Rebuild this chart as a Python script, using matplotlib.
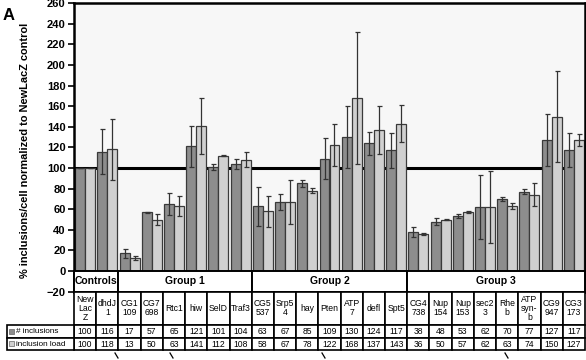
import matplotlib
matplotlib.use("Agg")
import matplotlib.pyplot as plt
import matplotlib.transforms as mtransforms
from matplotlib.patches import Rectangle
import numpy as np

plt.rcParams["font.family"] = ["Liberation Sans", "DejaVu Sans"]

# gene knockdowns (table headers)
genes = ["New\nLac\nZ", "dhdJ\n1", "CG1\n109", "CG7\n698", "Rtc1", "hiw", "SelD", "Traf3",
         "CG5\n537", "Srp5\n4", "hay", "Pten", "ATP\n7", "defl", "Spt5",
         "CG4\n738", "Nup\n154", "Nup\n153", "sec2\n3", "Rhe\nb", "ATP\nsyn-\nb", "CG9\n947", "CG3\n173"]
n_inclusions = [100, 116, 17, 57, 65, 121, 101, 104, 63, 67, 85, 109, 130, 124, 117,
                38, 48, 53, 62, 70, 77, 127, 117]
inclusion_load = [100, 118, 13, 50, 63, 141, 112, 108, 58, 67, 78, 122, 168, 137, 143,
                  36, 50, 57, 62, 63, 74, 150, 127]
# error bar half-lengths
n_inclusions_err = [0, 22, 4, 0.5, 11, 20, 3, 4.5, 19, 7.5, 3, 20, 30, 11, 17,
                    5, 3, 2, 31, 2, 2.5, 25.5, 16.5]
inclusion_load_err = [0, 30, 2, 5.5, 10, 27, 0.5, 7.5, 15, 21.5, 2.5, 20.5, 64, 23.5, 18,
                      1, 0.5, 1, 35, 3, 11, 44, 6]
groups = [("Controls", 0, 2), ("Group 1", 2, 8), ("Group 2", 8, 15), ("Group 3", 15, 23)]

DARK = "#8d8d8d"
LIGHT = "#d0d0d0"
EDGE = "#3a3a3a"

W, H = 586, 360
fig = plt.figure(figsize=(W / 100, H / 100), dpi=100)

y_top, y_bot = 3.2, 291.6
ax = fig.add_axes([74 / W, (H - y_bot) / H, 511 / W, (y_bot - y_top) / H])
ax.set_facecolor("#f7f7f7")

x = np.arange(len(genes))
w = 0.45
ax.axhline(100, color="black", lw=2.2, zorder=1)
ax.bar(x - w / 2, n_inclusions, w, color=DARK, edgecolor=EDGE, lw=0.9, zorder=2)
ax.bar(x + w / 2, inclusion_load, w, color=LIGHT, edgecolor=EDGE, lw=0.9, zorder=2)
ax.errorbar(x - w / 2, n_inclusions, yerr=n_inclusions_err, fmt="none",
            ecolor="#333333", elinewidth=0.9, capsize=1.8, capthick=0.9, zorder=3)
ax.errorbar(x + w / 2, inclusion_load, yerr=inclusion_load_err, fmt="none",
            ecolor="#333333", elinewidth=0.9, capsize=1.8, capthick=0.9, zorder=3)

ax.set_xlim(-0.5, len(genes) - 0.5)
ax.set_ylim(-20, 260)
ax.set_yticks(range(-20, 261, 20))
ax.set_xticks([])
ax.tick_params(axis="y", direction="out", length=4, width=1.2, pad=2, labelsize=8)
for lab in ax.get_yticklabels():
    lab.set_fontweight("bold")
for s in ax.spines.values():
    s.set_linewidth(1.8)
    s.set_color("black")

# group row between 0 and -20
for name, a, b in groups:
    ax.add_patch(Rectangle((a - 0.5, -20), b - a, 20, facecolor="white",
                           edgecolor="black", lw=1.4, zorder=4, clip_on=False))
    ax.text((a + b - 1) / 2, -10, name, ha="center", va="center",
            fontsize=7.5, fontweight="bold", zorder=5)

ax.set_ylabel("% inclusions/cell normalized to NewLacZ control",
              fontsize=7.9, fontweight="bold", labelpad=3)
ax.yaxis.set_label_coords(-44 / 511, 0.49)

fig.text(3 / W, 1 - 20 / H, "A", fontsize=12, fontweight="bold", ha="left", va="baseline")

# table below the axes, x in data units of the bars, y in pixels
tab = fig.add_axes([0, 0, 1, 1])
tab.set_xlim(0, W)
tab.set_ylim(H, 0)
tab.axis("off")
trans = mtransforms.blended_transform_factory(ax.transData, tab.transData)

r0, r1, r2, r3 = 291.6, 325, 337.5, 350
for i, g in enumerate(genes):
    tab.add_patch(Rectangle((i - 0.5, r0), 1, r1 - r0, transform=trans,
                            facecolor="white", edgecolor="black", lw=1.2))
    tab.text(i, (r0 + r1) / 2, g, transform=trans, ha="center", va="center",
             fontsize=6.2, linespacing=1.0)
    for (ya, yb), vals in (((r1, r2), n_inclusions), ((r2, r3), inclusion_load)):
        tab.add_patch(Rectangle((i - 0.5, ya), 1, yb - ya, transform=trans,
                                facecolor="white", edgecolor="black", lw=1.2))
        tab.text(i, (ya + yb) / 2 + 0.3, str(vals[i]), transform=trans,
                 ha="center", va="center", fontsize=6.2)

for (ya, yb), label, col in (((r1, r2), "# inclusions", DARK),
                             ((r2, r3), "inclusion load", LIGHT)):
    tab.add_patch(Rectangle((7, ya), 67, yb - ya, facecolor="white",
                            edgecolor="black", lw=1.2))
    tab.add_patch(Rectangle((9, ya + 3.5), 5, 5, facecolor=col,
                            edgecolor="#666666", lw=0.5))
    tab.text(16, (ya + yb) / 2 + 0.3, label, ha="left", va="center", fontsize=5.9)

# tips of arrows cut off at the bottom edge
for xa in (115, 170, 322, 505):
    tab.plot([xa, xa + 3], [353, 358], color="black", lw=0.9)

fig.savefig("out.png", dpi=100)
